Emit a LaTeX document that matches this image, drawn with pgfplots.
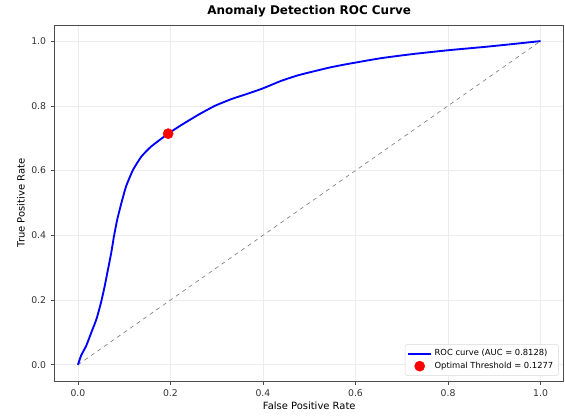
\documentclass[border=0pt]{standalone}
\usepackage{fontspec}
\setmainfont{DejaVu Sans}
\usepackage{pgfplots}
\pgfplotsset{compat=1.18}

\begin{document}
\begin{tikzpicture}
\path[use as bounding box] (-41.25pt,-26.25pt) rectangle (384pt,286.75pt);
\begin{axis}[
    at={(0,0)}, anchor=south west,
    scale only axis,
    width=383pt, height=268pt,
    xmin=-0.05, xmax=1.05,
    ymin=-0.05, ymax=1.05,
    xtick={0,0.2,...,1.0},
    ytick={0,0.2,...,1.0},
    tick label style={font=\fontsize{7}{8}\selectfont, text=black!80},
    /pgf/number format/assume math mode=true,
    /pgf/number format/fixed, /pgf/number format/fixed zerofill,
    /pgf/number format/precision=1,
    tick align=outside, tick pos=left,
    major tick length=3pt,
    every tick/.style={black!70, line width=0.5pt},
    axis line style={black!70, line width=0.6pt},
    grid=major,
    grid style={gray!15, line width=0.5pt},
    title={\bfseries Anomaly Detection ROC Curve},
    title style={font=\fontsize{9}{10}\selectfont, yshift=-4pt},
    xlabel={False Positive Rate},
    ylabel={True Positive Rate},
    label style={font=\fontsize{7.5}{9}\selectfont},
    xlabel style={yshift=3pt},
    ylabel style={yshift=-2pt},
    legend style={at={(0.99,0.015)}, anchor=south east,
        font=\fontsize{6.3}{7.5}\selectfont, draw=gray!30, rounded corners=1.5pt,
        row sep=-1pt, inner sep=1.8pt},
    legend cell align=left,
]
% chance line
\addplot[gray, dashed, line width=0.5pt, forget plot] coordinates {(0,0) (1,1)};
% ROC curve
\addplot[blue, line width=1.4pt, smooth, tension=0.3] coordinates {
    (0,0) (0.007,0.029) (0.018,0.059) (0.029,0.100) (0.040,0.141) (0.050,0.193)
    (0.058,0.244) (0.065,0.295) (0.072,0.346) (0.078,0.398) (0.085,0.449)
    (0.094,0.500) (0.104,0.551) (0.119,0.602) (0.137,0.643) (0.158,0.674)
    (0.195,0.714) (0.225,0.742) (0.261,0.773) (0.296,0.800) (0.332,0.821)
    (0.368,0.838) (0.400,0.854) (0.439,0.877) (0.475,0.894) (0.511,0.907)
    (0.546,0.919) (0.582,0.929) (0.654,0.947) (0.724,0.960) (0.802,0.972)
    (0.879,0.982) (0.934,0.990) (1.0,1.0)
};
\addlegendentry{ROC curve (AUC = 0.8128)}
% optimal threshold
\addplot[only marks, mark=*, mark size=3.8pt, color=red] coordinates {(0.195,0.714)};
\addlegendentry{Optimal Threshold = 0.1277}
\end{axis}
\end{tikzpicture}
\end{document}
